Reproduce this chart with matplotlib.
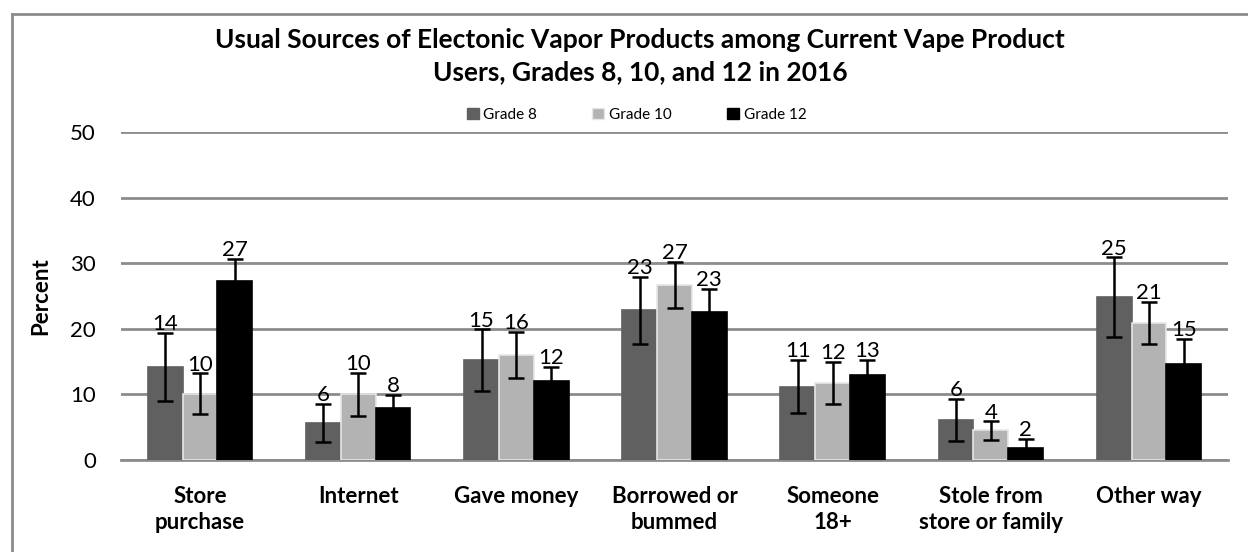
import numpy as np
import matplotlib
matplotlib.use("Agg")
import matplotlib.pyplot as plt
from matplotlib.patches import Rectangle
from matplotlib.lines import Line2D

plt.rcParams["font.family"] = ["Lato", "DejaVu Sans"]

categories = ["Store\npurchase", "Internet", "Gave money", "Borrowed or\nbummed",
              "Someone\n18+", "Stole from\nstore or family", "Other way"]
series = ["Grade 8", "Grade 10", "Grade 12"]

grade8 = [14.2, 5.7, 15.2, 22.8, 11.2, 6.1, 24.8]
grade10 = [10.1, 10.0, 16.0, 26.7, 11.8, 4.5, 20.9]
grade12 = [27.3, 7.9, 12.1, 22.6, 13.0, 1.9, 14.7]

err8 = [5.2, 2.9, 4.7, 5.1, 4.1, 3.2, 6.1]
err10 = [3.1, 3.3, 3.5, 3.5, 3.2, 1.4, 3.2]
err12 = [3.4, 2.0, 2.1, 3.5, 2.3, 1.3, 3.8]

labels8 = [14, 6, 15, 23, 11, 6, 25]
labels10 = [10, 10, 16, 27, 12, 4, 21]
labels12 = [27, 8, 12, 23, 13, 2, 15]

colors = ["#606060", "#b3b3b3", "#000000"]
edges = ["#606060", "#e6e6e6", "#000000"]

fig = plt.figure(figsize=(12.48, 5.52), dpi=100)
ax = fig.add_axes([121 / 1248, 1 - 460 / 552, (1228 - 121) / 1248, (460 - 132) / 552])

x = np.arange(len(categories))
w = 0.22
data = [(grade8, err8, labels8), (grade10, err10, labels10), (grade12, err12, labels12)]
for k, (vals, errs, labs) in enumerate(data):
    pos = x + (k - 1) * w
    ax.bar(pos, vals, width=w, color=colors[k], edgecolor=edges[k], linewidth=1.2,
           label=series[k], zorder=3)
    ax.errorbar(pos, vals, yerr=errs, fmt="none", ecolor="black", elinewidth=1.8,
                capsize=6, capthick=1.8, zorder=4)
    for p, v, e, lab in zip(pos, vals, errs, labs):
        ax.annotate(str(lab), (p, v + e), xytext=(0, -1), textcoords="offset points",
                    ha="center", va="bottom", fontsize=16)

ax.set_xlim(-0.5, len(categories) - 0.5)
ax.set_ylim(0, 50)
ax.set_yticks(range(0, 51, 10))
ax.yaxis.grid(True, color="#8c8c8c", linewidth=2, zorder=0)
ax.set_axisbelow(True)
for s in ["left", "right", "top"]:
    ax.spines[s].set_visible(False)
ax.spines["bottom"].set_color("#8c8c8c")
ax.spines["bottom"].set_linewidth(2)
ax.tick_params(axis="y", length=0, labelsize=16, pad=18)
ax.tick_params(axis="x", length=0, pad=19)
ax.set_xticks(x)
ax.set_xticklabels(categories, fontweight="bold", fontsize=16, linespacing=1.3)
ax.set_ylabel("Percent", fontweight="bold", fontsize=16, labelpad=14)

fig.text(0.513, 0.95, "Usual Sources of Electonic Vapor Products among Current Vape Product\n"
         "Users, Grades 8, 10, and 12 in 2016", ha="center", va="top",
         fontsize=19, fontweight="bold", linespacing=1.45)

handles = [Rectangle((0, 0), 1, 1, facecolor=c, edgecolor=e) for c, e in zip(colors, edges)]
fig.legend(handles, series, loc="center", bbox_to_anchor=(0.51, 0.792), ncol=3,
           frameon=False, fontsize=11, handlelength=0.8, handleheight=0.8,
           handletextpad=0.3, columnspacing=3.6)

# chart border (left and top edges visible)
fig.add_artist(Line2D([12 / 1248, 12 / 1248], [0, 1 - 14 / 552], transform=fig.transFigure,
                      color="#8c8c8c", linewidth=2))
fig.add_artist(Line2D([12 / 1248, 1], [1 - 14 / 552, 1 - 14 / 552], transform=fig.transFigure,
                      color="#8c8c8c", linewidth=2))

fig.savefig("out.png", dpi=100)
